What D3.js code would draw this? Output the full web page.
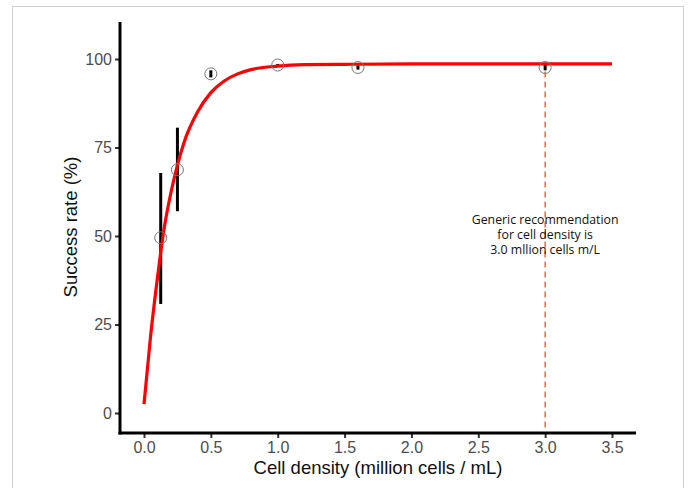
<!DOCTYPE html>
<html>
<head>
<meta charset="utf-8">
<script src="https://cdn.jsdelivr.net/npm/d3@7"></script>
<style>
  body { margin: 0; background: #fff; }
  svg { display: block; }
</style>
</head>
<body>
<div id="chart"></div>
<script>
// observed success rate per cell density
let densities = [0.125, 0.25, 0.5, 1.0, 1.6, 3.0];
let successRates = [49.5, 68.7, 95.8, 98.3, 97.6, 97.6];
let errLow = [30.8, 57.0, 94.8, 98.0, 97.0, 96.8];
let errHigh = [67.8, 80.6, 96.8, 98.6, 98.2, 98.4];

// fitted curve
let fitX = [0, 0.05, 0.1, 0.15, 0.2, 0.25, 0.3, 0.4, 0.5, 0.6, 0.7, 0.8, 1.0, 1.2, 1.5, 2.0, 3.5];
let fitY = [2.5, 22, 38, 52, 62, 70, 76.5, 85, 90.5, 93.8, 95.8, 97, 98, 98.4, 98.5, 98.6, 98.6];

let xTicks = [0, 0.5, 1, 1.5, 2, 2.5, 3, 3.5];
let yTicks = [0, 25, 50, 75, 100];
let recommended = 3.0;
let noteLines = ['Generic recommendation', 'for cell density is', '3.0 mllion cells m/L'];

let width = 689, height = 488;
let svg = d3.select('#chart').append('svg')
    .attr('width', width)
    .attr('height', height);

// light frame round the figure
svg.append('path')
    .attr('d', 'M12.5,488 V6.5 H683.5 V488')
    .attr('fill', 'none')
    .attr('stroke', '#d0d0d0')
    .attr('stroke-width', 1);

let x = d3.scaleLinear().domain([0, 3.5]).range([144, 612]);
let y = d3.scaleLinear().domain([0, 100]).range([413, 59]);
let left = 120, bottom = 433;

// axes
let xAxis = svg.append('g')
    .attr('transform', `translate(0,${bottom})`)
    .call(d3.axisBottom(x).tickValues(xTicks).tickFormat(d3.format('.1f')).tickSize(5).tickPadding(4));
let yAxis = svg.append('g')
    .attr('transform', `translate(${left},0)`)
    .call(d3.axisLeft(y).tickValues(yTicks).tickSize(5).tickPadding(3));

[xAxis, yAxis].forEach(g => {
    g.select('.domain').remove();
    g.selectAll('.tick line').attr('stroke', '#333').attr('stroke-width', 2);
    g.selectAll('.tick text')
        .attr('fill', '#4d4d4d')
        .style('font-family', 'Liberation Sans, Arial, sans-serif')
        .style('font-size', '16px');
});

svg.append('line')
    .attr('x1', left).attr('x2', left)
    .attr('y1', 22).attr('y2', bottom + 1.5)
    .attr('stroke', '#000').attr('stroke-width', 3);
svg.append('line')
    .attr('x1', left - 1.5).attr('x2', 636)
    .attr('y1', bottom).attr('y2', bottom)
    .attr('stroke', '#000').attr('stroke-width', 3);

// titles
svg.append('text')
    .attr('x', x(1.75)).attr('y', 474)
    .attr('text-anchor', 'middle')
    .style('font-family', 'Liberation Sans, Arial, sans-serif')
    .style('font-size', '18.5px')
    .attr('fill', '#111')
    .text('Cell density (million cells / mL)');
svg.append('text')
    .attr('transform', `translate(77,${y(50) - 9}) rotate(-90)`)
    .attr('text-anchor', 'middle')
    .style('font-family', 'Liberation Sans, Arial, sans-serif')
    .style('font-size', '18.5px')
    .attr('fill', '#111')
    .text('Success rate (%)');

// recommendation line
svg.append('line')
    .attr('x1', x(recommended)).attr('x2', x(recommended))
    .attr('y1', y(successRates[5]) + 4).attr('y2', bottom - 3)
    .attr('stroke', '#e0441c')
    .attr('stroke-width', 1.2)
    .attr('stroke-dasharray', '6,4');

let note = svg.append('text')
    .attr('text-anchor', 'middle')
    .style('font-family', 'Open Sans, sans-serif')
    .style('font-size', '12.3px')
    .attr('fill', '#111');
noteLines.forEach((s, i) => {
    note.append('tspan')
        .attr('x', x(recommended))
        .attr('y', 224 + i * 15)
        .text(s);
});

// error bars
svg.append('g').selectAll('line')
    .data(densities)
    .join('line')
    .attr('x1', d => x(d)).attr('x2', d => x(d))
    .attr('y1', (d, i) => y(errLow[i]))
    .attr('y2', (d, i) => y(errHigh[i]))
    .attr('stroke', '#000')
    .attr('stroke-width', 3);

// fitted curve
let line = d3.line()
    .x((d, i) => x(fitX[i]))
    .y(d => y(d))
    .curve(d3.curveMonotoneX);
svg.append('path')
    .datum(fitY)
    .attr('d', line)
    .attr('fill', 'none')
    .attr('stroke', '#ff0000')
    .attr('stroke-width', 3.2);

// points
svg.append('g').selectAll('circle')
    .data(densities)
    .join('circle')
    .attr('cx', d => x(d))
    .attr('cy', (d, i) => y(successRates[i]))
    .attr('r', 6)
    .attr('fill', 'none')
    .attr('stroke', '#777')
    .attr('stroke-width', 1);
</script>
</body>
</html>
